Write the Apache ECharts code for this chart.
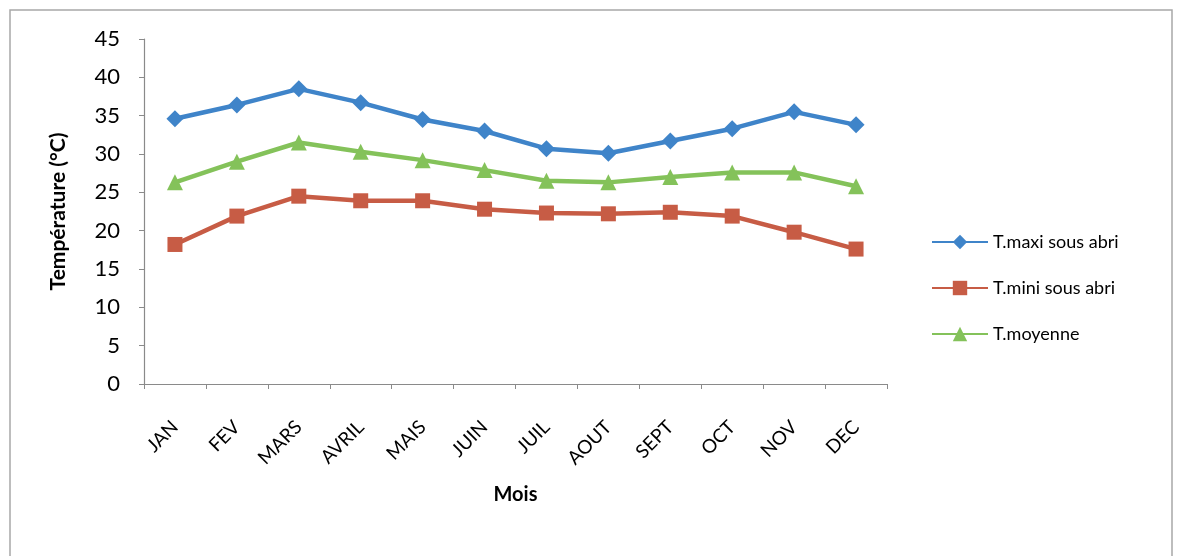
<!DOCTYPE html>
<html>
<head>
<meta charset="utf-8">
<script src="https://cdn.jsdelivr.net/npm/echarts@6/dist/echarts.min.js"></script>
<style>
  html, body { margin: 0; padding: 0; background: #fff; }
  #chart { width: 1179px; height: 556px; }
</style>
</head>
<body>
<div id="chart"></div>
<script>
// Monthly temperatures (°C)
const months = ['JAN', 'FEV', 'MARS', 'AVRIL', 'MAIS', 'JUIN', 'JUIL', 'AOUT', 'SEPT', 'OCT', 'NOV', 'DEC'];
const tMaxi = [34.6, 36.4, 38.5, 36.7, 34.5, 33.0, 30.7, 30.1, 31.7, 33.3, 35.5, 33.8];
const tMini = [18.2, 21.9, 24.5, 23.9, 23.9, 22.8, 22.3, 22.2, 22.4, 21.9, 19.8, 17.6];
const tMoy  = [26.3, 29.0, 31.5, 30.3, 29.2, 27.9, 26.5, 26.3, 27.0, 27.6, 27.6, 25.8];
const seriesNames = ['T.maxi sous abri', 'T.mini sous abri', 'T.moyenne'];

const FONT = 'Lato, "Open Sans", sans-serif';
const chart = echarts.init(document.getElementById('chart'), null, { renderer: 'canvas' });

function lineSeries(name, data, color, symbol, size) {
  return {
    name: name,
    type: 'line',
    data: data,
    symbol: symbol,
    symbolSize: size,
    lineStyle: { color: color, width: 4.5 },
    itemStyle: { color: color },
    emphasis: { disabled: true },
    animation: false
  };
}

chart.setOption({
  animation: false,
  backgroundColor: '#fff',
  graphic: [{
    type: 'rect',
    shape: { x: 10, y: 10, width: 1162, height: 560 },
    style: { fill: 'none', stroke: '#a8a8a8', lineWidth: 1.5 },
    silent: true
  }],
  grid: { left: 144, right: 292, top: 39, bottom: 172 },
  legend: {
    orient: 'vertical',
    left: 926,
    top: 228,
    itemGap: 28,
    itemWidth: 56,
    itemHeight: 18,
    textStyle: { fontFamily: FONT, fontSize: 18, color: '#000' },
    data: seriesNames
  },
  xAxis: {
    type: 'category',
    data: months,
    boundaryGap: true,
    name: 'Mois',
    nameLocation: 'middle',
    nameGap: 101,
    nameTextStyle: { fontFamily: FONT, fontSize: 20, fontWeight: 'bold', color: '#000' },
    axisLine: { lineStyle: { color: '#8a8a8a', width: 1.2 } },
    axisTick: { show: true, length: 5, alignWithLabel: false, lineStyle: { color: '#8a8a8a' } },
    axisLabel: { rotate: 45, margin: 40, fontFamily: FONT, fontSize: 19, color: '#000' },
    splitLine: { show: false }
  },
  yAxis: {
    type: 'value',
    min: 0,
    max: 45,
    interval: 5,
    name: 'Température (°C)',
    nameLocation: 'middle',
    nameGap: 75,
    nameTextStyle: { fontFamily: FONT, fontSize: 21, fontWeight: 'bold', color: '#000' },
    axisLine: { show: true, lineStyle: { color: '#8a8a8a', width: 1.2 } },
    axisTick: { show: true, length: 5, lineStyle: { color: '#8a8a8a' } },
    axisLabel: { margin: 24, fontFamily: FONT, fontSize: 22, color: '#000' },
    splitLine: { show: false }
  },
  series: [
    lineSeries(seriesNames[0], tMaxi, '#3f84c9', 'diamond', 17),
    lineSeries(seriesNames[1], tMini, '#c75c45', 'rect', 15),
    lineSeries(seriesNames[2], tMoy, '#84c25a', 'triangle', 16)
  ]
});
</script>
</body>
</html>
